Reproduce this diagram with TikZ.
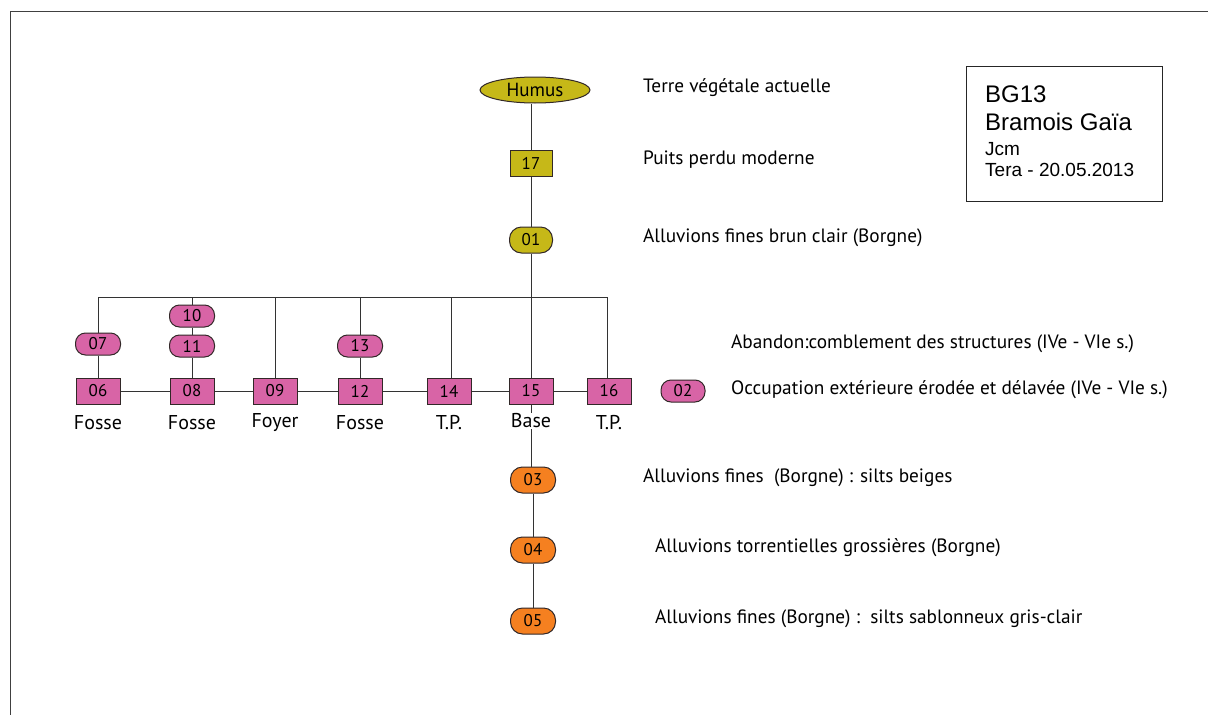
\documentclass[tikz,border=0pt]{standalone}
\usepackage{fontspec}
\setmainfont{PT Sans}
\newfontfamily\arialf{Liberation Sans}
\usetikzlibrary{shapes.geometric}
\definecolor{olivef}{RGB}{198,184,24}
\definecolor{pinkf}{RGB}{216,100,166}
\definecolor{orangef}{RGB}{245,128,32}
\definecolor{edgec}{RGB}{50,40,40}
\begin{document}
\begin{tikzpicture}[x=1pt,y=-1pt,
  unit/.style={draw=edgec,line width=1pt,inner sep=0pt,font=\fontsize{17}{17}\selectfont},
  sq/.style={unit,rectangle,minimum width=44pt,minimum height=26pt},
  pill/.style={unit,rectangle,rounded corners=10pt,minimum width=45pt,minimum height=22pt},
  pilltall/.style={unit,rectangle,rounded corners=12pt,minimum width=45pt,minimum height=26pt},
  lbl/.style={font=\fontsize{19.3}{19.3}\selectfont,anchor=west,inner sep=0pt},
  caplbl/.style={font=\fontsize{20}{20}\selectfont,inner sep=1pt},
  boxtxt/.style={font=\arialf,anchor=base west,inner sep=0pt},
  conn/.style={draw=black!80,line width=0.7pt}]
\useasboundingbox (0,0) rectangle (1208,715);
\fill[white] (0,0) rectangle (1208,715);
\draw[black!75,line width=1pt] (10,715) -- (10,11) -- (1208,11);

% top column
\node[unit,ellipse,fill=olivef,minimum width=110pt,minimum height=26pt,font=\fontsize{19}{19}\selectfont] (hum) at (535,90) {Humus};
\node[sq,fill=olivef,minimum width=42pt] (n17) at (531,163) {17};
\node[pilltall,fill=olivef,minimum width=43pt] (n01) at (531,240) {01};

% middle row
\node[sq,fill=pinkf] (n06) at (98,391) {06};
\node[sq,fill=pinkf] (n08) at (192,391) {08};
\node[sq,fill=pinkf] (n09) at (275,391) {09};
\node[sq,fill=pinkf] (n12) at (360,391) {12};
\node[sq,fill=pinkf] (n14) at (449,391) {14};
\node[sq,fill=pinkf] (n15) at (531,391) {15};
\node[sq,fill=pinkf] (n16) at (609,391) {16};
\node[pill,fill=pinkf] (n07) at (98,344) {07};
\node[pill,fill=pinkf] (n10) at (192,316) {10};
\node[pill,fill=pinkf] (n11) at (192,346) {11};
\node[pill,fill=pinkf] (n13) at (360,346) {13};
\node[pill,fill=pinkf,minimum width=44pt] (n02) at (683,391) {02};

% bottom column
\node[pilltall,fill=orangef] (n03) at (533,480) {03};
\node[pilltall,fill=orangef] (n04) at (533,550) {04};
\node[pilltall,fill=orangef] (n05) at (533,621) {05};

% captions under boxes
\node[caplbl] (c06) at (98,423) {Fosse};
\node[caplbl] (c08) at (192,423) {Fosse};
\node[caplbl] (c09) at (275,423) {Foyer};
\node[caplbl] (c12) at (360,423) {Fosse};
\node[caplbl] (c14) at (449,423) {T.P.};
\node[caplbl,fill=white] (c15) at (531,421) {Base};
\node[caplbl] (c16) at (609,423) {T.P.};

% connectors
\coordinate (barL) at (98,297);
\coordinate (barR) at (607,297);
\draw[conn] (barL) -- (barR);
\draw[conn] (n17.north |- hum.south) -- (n17);
\draw[conn] (n17) -- (n01);
\draw[conn] (n01) -- (n15);
\draw[conn] (n15) -- (c15);
\draw[conn] (c15) -- (c15 |- n03.north);
\draw[conn] (n03) -- (n04);
\draw[conn] (n04) -- (n05);
\draw[conn] (n06) -- (n08);
\draw[conn] (n08) -- (n09);
\draw[conn] (n09) -- (n12);
\draw[conn] (n12) -- (n14);
\draw[conn] (n14) -- (n15);
\draw[conn] (n15) -- (n16);
\draw[conn] (n07.north) -- (barL);
\draw[conn] (n07) -- (n06);
\draw[conn] (n10.north) -- (n10.north |- barL);
\draw[conn] (n10) -- (n11);
\draw[conn] (n11) -- (n08);
\draw[conn] (n09.north) -- (n09.north |- barL);
\draw[conn] (n13.north) -- (n13.north |- barL);
\draw[conn] (n13) -- (n12);
\draw[conn] ([xshift=2pt]n14.north) -- ([xshift=2pt]n14.north |- barL);
\draw[conn] ([xshift=-2pt]n16.north) -- (barR);

% descriptions
\node[lbl] (t1) at (643,88) {Terre végétale actuelle};
\node[lbl] (t2) at (643,160) {Puits perdu moderne};
\node[lbl] (t3) at (643,238) {Alluvions fines brun clair (Borgne)};
\node[lbl] (t4) at (731,344) {Abandon:comblement des structures (IVe - VIe s.)};
\node[lbl] (t5) at (731,390) {Occupation extérieure érodée et délavée (IVe - VIe s.)};
\node[lbl] (t6) at (643,478) {Alluvions fines\ \ (Borgne) : silts beiges};
\node[lbl] (t7) at (655,548) {Alluvions torrentielles grossières (Borgne)};
\node[lbl] (t8) at (655,619) {Alluvions fines (Borgne) :\ \ silts sablonneux gris-clair};

% title box
\node[draw=black!85,line width=1pt,minimum width=196pt,minimum height=135pt,anchor=north west] (box) at (966,66) {};
\node[boxtxt,font=\arialf\fontsize{24}{24}\selectfont] (b1) at (985,102) {BG13};
\node[boxtxt,font=\arialf\fontsize{24}{24}\selectfont] (b2) at (985,130) {Bramois Gaïa};
\node[boxtxt,font=\arialf\fontsize{19}{19}\selectfont] (b3) at (985,155) {Jcm};
\node[boxtxt,font=\arialf\fontsize{19}{19}\selectfont] (b4) at (985,176) {Tera - 20.05.2013};
\end{tikzpicture}
\end{document}
